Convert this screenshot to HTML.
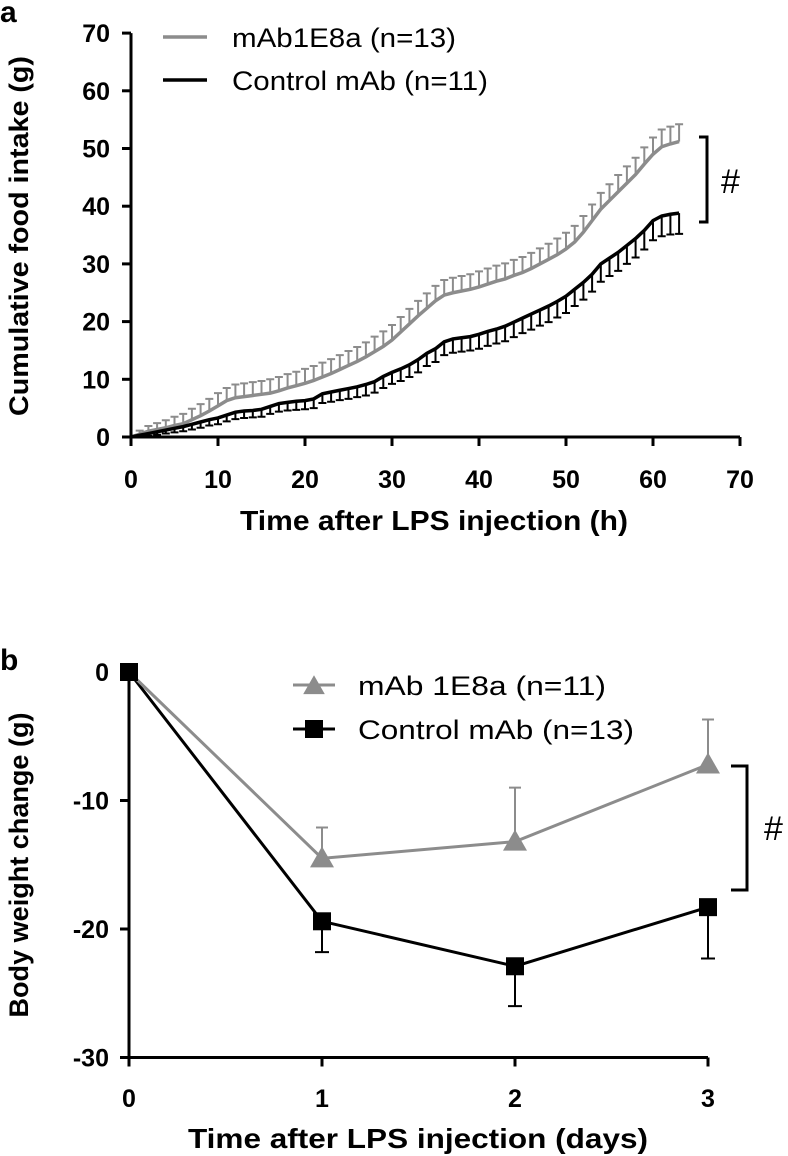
<!DOCTYPE html>
<html><head><meta charset="utf-8"><style>
html,body{margin:0;padding:0;background:#fff;width:788px;height:1156px;overflow:hidden}
svg{display:block}
text{font-family:"Liberation Sans",Arial,sans-serif}
.b{font-weight:bold}
</style></head><body>
<svg id="fig" width="788" height="1156" viewBox="0 0 788 1156">
<text x="0" y="22" class="b" font-size="30">a</text>
<text x="0" y="670" class="b" font-size="30">b</text>
<g id="pa"></g>
<g id="pb"></g>
</svg>
<script>
// Panel a data
const hoursA = Array.from({length:64},(_,i)=>i);
const grayA = [0,0.5,1,1.3,1.6,2,2.3,3,3.7,4.5,5.4,6.3,6.8,7,7.2,7.4,7.6,8,8.5,8.9,9.3,9.8,10.4,11,11.7,12.4,13.1,13.9,14.8,15.7,16.8,18.2,19.6,21,22.3,23.6,24.6,25,25.3,25.6,26,26.5,27,27.4,28,28.5,29.2,30,30.8,31.6,32.6,33.8,35.5,37.5,39.5,41,42.5,44,45.5,47.3,49,50.3,50.8,51.2];
const grayErrA = [0.3,0.6,0.9,1.1,1.3,1.5,1.7,1.9,2,2.1,2.2,2.2,2.3,2.3,2.3,2.3,2.4,2.4,2.4,2.4,2.5,2.5,2.5,2.5,2.5,2.5,2.5,2.5,2.6,2.6,2.6,2.6,2.6,2.6,2.6,2.6,2.6,2.6,2.6,2.6,2.7,2.7,2.7,2.7,2.7,2.7,2.7,2.7,2.7,2.8,2.8,2.8,2.8,2.8,2.8,2.8,2.9,2.9,2.9,2.9,2.9,3,3,3];
const blackA = [0,0.3,0.6,0.9,1.2,1.5,1.8,2.2,2.6,3,3.3,3.8,4.3,4.5,4.6,4.8,5.3,5.8,6,6.2,6.3,6.6,7.5,7.8,8.1,8.4,8.7,9.1,9.6,10.5,11.2,11.8,12.5,13.4,14.5,15.3,16.5,17,17.2,17.4,17.8,18.3,18.7,19.2,19.9,20.6,21.3,22,22.7,23.5,24.4,25.6,26.8,28.2,30,31,32,33.2,34.4,35.8,37.5,38.3,38.6,38.8];
const blackErrA = [0.2,0.3,0.4,0.5,0.6,0.7,0.8,0.9,1,1,1.1,1.1,1.2,1.2,1.2,1.3,1.3,1.4,1.4,1.5,1.5,1.6,1.6,1.7,1.7,1.8,1.8,1.9,1.9,2,2,2.1,2.1,2.2,2.2,2.3,2.3,2.4,2.4,2.4,2.5,2.5,2.5,2.6,2.6,2.6,2.7,2.7,2.8,2.8,2.9,2.9,3,3,3.1,3.1,3.2,3.2,3.3,3.3,3.4,3.5,3.5,3.6];
const ticksXA = [0,10,20,30,40,50,60,70];
const ticksYA = [0,10,20,30,40,50,60,70];
// Panel b data
const daysB = [0,1,2,3];
const grayB = [0,-14.5,-13.2,-7.2];
const grayErrB = [0,2.4,4.2,3.5];
const blackB = [0,-19.4,-22.9,-18.3];
const blackErrB = [0,2.4,3.1,4.0];
const ticksXB = [0,1,2,3];
const ticksYB = [0,-10,-20,-30];

const NS='http://www.w3.org/2000/svg';
function mk(parent,tag,attrs,txt){const e=document.createElementNS(NS,tag);for(const k in attrs)e.setAttribute(k,attrs[k]);if(txt!==undefined)e.textContent=txt;parent.appendChild(e);return e;}

// ---- Panel A
const pa=document.getElementById('pa');
const xA=v=>131+v*8.7, yA=v=>437-v*5.77;
const GR='#8c8c8c';
hoursA.forEach((h,i)=>{
  if(i===0)return;
  const g=mk(pa,'path',{d:`M${xA(h)},${yA(grayA[i])}V${yA(grayA[i]+grayErrA[i])}M${xA(h)-4},${yA(grayA[i]+grayErrA[i])}H${xA(h)+4}`,stroke:GR,'stroke-width':2,fill:'none'});
  
  
  const b=mk(pa,'path',{d:`M${xA(h)},${yA(blackA[i])}V${yA(blackA[i]-blackErrA[i])}M${xA(h)-4},${yA(blackA[i]-blackErrA[i])}H${xA(h)+4}`,stroke:'#000','stroke-width':2,fill:'none'});
  
  
});
const lg=mk(pa,'polyline',{points:hoursA.map((h,i)=>xA(h)+','+yA(grayA[i])).join(' '),stroke:GR,'stroke-width':3.5,fill:'none'});


const lb=mk(pa,'polyline',{points:hoursA.map((h,i)=>xA(h)+','+yA(blackA[i])).join(' '),stroke:'#000','stroke-width':3.5,fill:'none'});


const axA=mk(pa,'path',{d:`M${xA(0)},${yA(70)}V${yA(0)}H${xA(70)}`,stroke:'#000','stroke-width':3,fill:'none'});


ticksXA.forEach(t=>{
  mk(pa,'line',{x1:xA(t),x2:xA(t),y1:yA(0),y2:yA(0)+9,stroke:'#000','stroke-width':3});
  const l=mk(pa,'text',{x:xA(t),y:488,'text-anchor':'middle','font-size':25,class:'b'},t);
  
  
});
ticksYA.forEach(t=>{
  mk(pa,'line',{x1:xA(0)-9,x2:xA(0),y1:yA(t),y2:yA(t),stroke:'#000','stroke-width':3});
  const l=mk(pa,'text',{x:110,y:yA(t)+9,'text-anchor':'end','font-size':25,class:'b'},t);
  
  
});
let t1=mk(pa,'text',{x:240,y:530,'font-size':28,class:'b',textLength:388,lengthAdjust:'spacingAndGlyphs'},'Time after LPS injection (h)');


let t2=mk(pa,'text',{x:0,y:0,'text-anchor':'middle','font-size':27,class:'b',textLength:360,lengthAdjust:'spacingAndGlyphs',transform:'translate(28,236) rotate(-90)'},'Cumulative food intake (g)');


mk(pa,'line',{x1:163,x2:207,y1:37,y2:37,stroke:GR,'stroke-width':3.5});
let la1=mk(pa,'text',{x:232,y:47,'font-size':27,textLength:224,lengthAdjust:'spacingAndGlyphs'},'mAb1E8a (n=13)');


mk(pa,'line',{x1:163,x2:207,y1:80,y2:80,stroke:'#000','stroke-width':3.5});
let la2=mk(pa,'text',{x:232,y:90,'font-size':27,textLength:256,lengthAdjust:'spacingAndGlyphs'},'Control mAb (n=11)');


let brA=mk(pa,'path',{d:'M699,137H707V222H699',stroke:'#000','stroke-width':3,fill:'none'});


let hA=mk(pa,'text',{x:721,y:193,'font-size':34},'#');



// ---- Panel B
const pb=document.getElementById('pb');
const xB=v=>129+v*193, yB=v=>672-v*12.85;
daysB.forEach((d,i)=>{
  if(grayErrB[i]>0){
    const e=mk(pb,'path',{d:`M${xB(d)},${yB(grayB[i])}V${yB(grayB[i]+grayErrB[i])}M${xB(d)-6},${yB(grayB[i]+grayErrB[i])}H${xB(d)+6}`,stroke:GR,'stroke-width':2,fill:'none'});
    
    
  }
  if(blackErrB[i]>0){
    const e=mk(pb,'path',{d:`M${xB(d)},${yB(blackB[i])}V${yB(blackB[i]-blackErrB[i])}M${xB(d)-7},${yB(blackB[i]-blackErrB[i])}H${xB(d)+7}`,stroke:'#000','stroke-width':2,fill:'none'});
    
    
  }
});
const lbB=mk(pb,'polyline',{points:daysB.map((d,i)=>xB(d)+','+yB(blackB[i])).join(' '),stroke:'#000','stroke-width':3,fill:'none'});


const lgB=mk(pb,'polyline',{points:daysB.map((d,i)=>xB(d)+','+yB(grayB[i])).join(' '),stroke:GR,'stroke-width':3,fill:'none'});


function tri(p,cx,cy,s){return mk(p,'polygon',{points:`${cx},${cy-s*0.6} ${cx-s*0.6},${cy+s*0.45} ${cx+s*0.6},${cy+s*0.45}`,fill:GR});}
daysB.forEach((d,i)=>{
  const s=mk(pb,'rect',{x:xB(d)-9,y:yB(blackB[i])-9,width:18,height:18,fill:'#000'});
  
  
  if(i>0){const t=tri(pb,xB(d),yB(grayB[i]),20);
  
  }
});
const axB=mk(pb,'path',{d:`M${xB(0)},${yB(0)}V${yB(-30)}H${xB(3)}`,stroke:'#000','stroke-width':3,fill:'none'});


ticksXB.forEach(t=>{
  mk(pb,'line',{x1:xB(t),x2:xB(t),y1:yB(-30),y2:yB(-30)+9,stroke:'#000','stroke-width':3});
  const l=mk(pb,'text',{x:xB(t),y:1107,'text-anchor':'middle','font-size':25,class:'b'},t);
  
  
});
ticksYB.forEach(t=>{
  mk(pb,'line',{x1:xB(0)-9,x2:xB(0),y1:yB(t),y2:yB(t),stroke:'#000','stroke-width':3});
  const l=mk(pb,'text',{x:109,y:yB(t)+9,'text-anchor':'end','font-size':25,class:'b'},t);
  
  
});
let t3=mk(pb,'text',{x:188,y:1148,'font-size':28,class:'b',textLength:460,lengthAdjust:'spacingAndGlyphs'},'Time after LPS injection (days)');


let t4=mk(pb,'text',{x:0,y:0,'text-anchor':'middle','font-size':27,class:'b',textLength:305,lengthAdjust:'spacingAndGlyphs',transform:'translate(28,865) rotate(-90)'},'Body weight change (g)');


mk(pb,'line',{x1:293,x2:335,y1:685,y2:685,stroke:GR,'stroke-width':3});
tri(pb,314,686,18);
let lb1=mk(pb,'text',{x:358,y:695,'font-size':27,textLength:248,lengthAdjust:'spacingAndGlyphs'},'mAb 1E8a (n=11)');


mk(pb,'line',{x1:293,x2:335,y1:729,y2:729,stroke:'#000','stroke-width':3});
mk(pb,'rect',{x:305,y:720,width:18,height:18,fill:'#000'});
let lb2=mk(pb,'text',{x:358,y:739,'font-size':27,textLength:276,lengthAdjust:'spacingAndGlyphs'},'Control mAb (n=13)');


let brB=mk(pb,'path',{d:'M731,766H747V890H731',stroke:'#000','stroke-width':3,fill:'none'});


let hB=mk(pb,'text',{x:764,y:840,'font-size':34},'#');


</script>
</body></html>
